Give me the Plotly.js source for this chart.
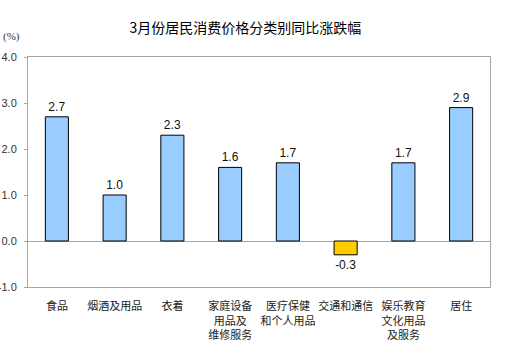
<!DOCTYPE html>
<html>
<head>
<meta charset="utf-8">
<script src="https://cdn.plot.ly/plotly-3.0.1.min.js"></script>
<style>html,body{margin:0;padding:0;background:#fff;}#chart{width:509px;height:356px;}</style>
</head>
<body>
<div id="chart"></div>
<script>
const categories = ['食品', '烟酒及用品', '衣着', '家庭设备<br>用品及<br>维修服务', '医疗保健<br>和个人用品', '交通和通信', '娱乐教育<br>文化用品<br>及服务', '居住'];
const values = [2.7, 1.0, 2.3, 1.6, 1.7, -0.3, 1.7, 2.9];
const valueLabels = ['2.7', '1.0', '2.3', '1.6', '1.7', '-0.3', '1.7', '2.9'];
const yTicks = [-1, 0, 1, 2, 3, 4];
const yTickLabels = ['-1.0', '0.0', '1.0', '2.0', '3.0', '4.0'];
const titleText = '3月份居民消费价格分类别同比涨跌幅';
const unitText = '(%)';

const colors = values.map(v => v < 0 ? '#FFCC00' : '#99CCFF');

const trace = {
  type: 'bar',
  x: categories,
  y: values,
  text: valueLabels,
  textposition: 'outside',
  textfont: {family: 'Liberation Sans, Arial, sans-serif', size: 12, color: '#111'},
  cliponaxis: false,
  width: 0.4,
  marker: {color: colors, line: {color: '#000', width: 1}},
  hoverinfo: 'none'
};

const layout = {
  width: 509, height: 356,
  margin: {l: 28, r: 19, t: 57, b: 69, pad: 0},
  paper_bgcolor: '#fff', plot_bgcolor: '#fff',
  showlegend: false,
  title: {text: titleText, x: 0.482, xanchor: 'center', y: 0.92, yanchor: 'middle',
          font: {family: 'Noto Sans CJK SC, sans-serif', size: 14, color: '#000'}},
  xaxis: {
    type: 'category', showline: true, mirror: true, linecolor: '#A6A6A6', linewidth: 1,
    ticks: '', showgrid: false, zeroline: false, automargin: false,
    tickfont: {family: 'Noto Sans CJK SC, sans-serif', size: 11, color: '#222'},
    ticklabelstandoff: 9
  },
  yaxis: {
    range: [-1, 4], tickvals: yTicks, ticktext: yTickLabels,
    showline: true, mirror: true, linecolor: '#A6A6A6', linewidth: 1,
    ticks: 'outside', ticklen: 3, tickcolor: '#A6A6A6',
    showgrid: false, zeroline: true, zerolinecolor: '#A6A6A6', zerolinewidth: 1,
    automargin: false, ticklabelstandoff: 5,
    tickfont: {family: 'Liberation Sans, Arial, sans-serif', size: 11, color: '#333'}
  },
  annotations: [{
    text: unitText, xref: 'paper', yref: 'paper', x: -0.058, y: 1.09,
    xanchor: 'left', yanchor: 'middle', showarrow: false,
    font: {family: 'Liberation Serif, Times New Roman, serif', size: 11, color: '#333'}
  }]
};

Plotly.newPlot('chart', [trace], layout, {staticPlot: true, displayModeBar: false});
</script>
</body>
</html>
